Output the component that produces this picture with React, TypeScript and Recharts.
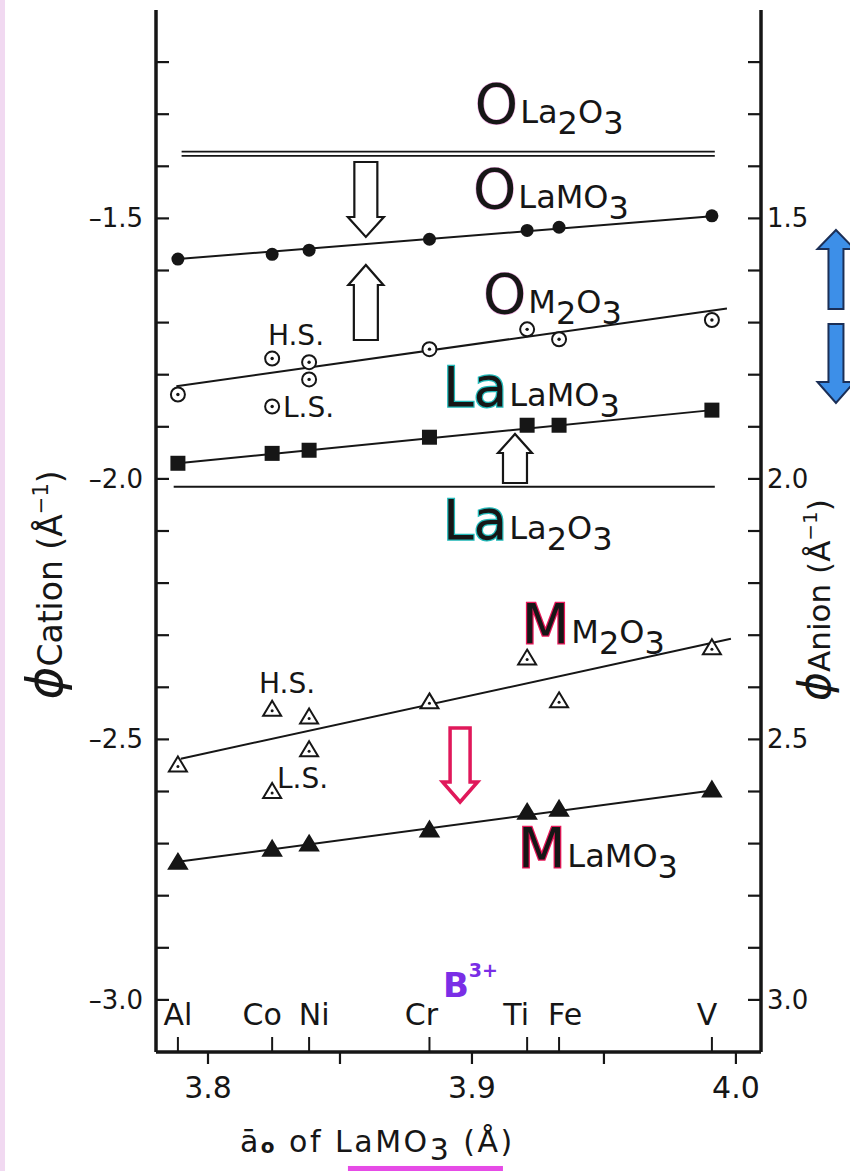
import React from 'react';
import { ComposedChart, XAxis, YAxis, Line, Scatter, ReferenceDot } from 'recharts';

// B-site cations of LaMO3 and the pseudo-cubic lattice constant a0 (Å)
const elements = ['Al', 'Co', 'Ni', 'Cr', 'Ti', 'Fe', 'V'];
const latticeA = [3.7886, 3.8243, 3.8383, 3.8839, 3.9209, 3.933, 3.9909];

// site potentials phi (Å^-1); null = no point
const oLaMO3 = [-1.578, -1.569, -1.561, -1.54, -1.523, -1.517, -1.495];
const oM2O3 = [-1.838, null, null, -1.751, -1.713, -1.732, -1.695];
const oM2O3HS = [null, -1.769, -1.776, null, null, null, null];
const oM2O3LS = [null, -1.861, -1.809, null, null, null, null];
const laLaMO3 = [-1.97, -1.951, -1.945, -1.92, -1.897, -1.897, -1.868];
const mM2O3 = [-2.548, null, null, -2.427, -2.343, -2.425, -2.323];
const mM2O3HS = [null, -2.441, -2.456, null, null, null, null];
const mM2O3LS = [null, -2.599, -2.519, null, null, null, null];
const mLaMO3 = [-2.735, -2.71, -2.7, -2.673, -2.639, -2.633, -2.596];

// straight guide lines (two ends each)
const fitA = [3.7886, 3.9909];
const oLaMO3Fit = [-1.578, -1.496];
const laLaMO3Fit = [-1.97, -1.868];
const mLaMO3Fit = [-2.735, -2.598];
const oM2O3FitA = [3.788, 3.9966];
const oM2O3Fit = [-1.822, -1.673];
const mM2O3FitA = [3.7897, 3.9981];
const mM2O3Fit = [-2.537, -2.307];
const oLa2O3A = [3.79, 3.992];
const oLa2O3Upper = [-1.372, -1.372];
const oLa2O3Lower = [-1.38, -1.38];
const laLa2O3A = [3.787, 3.992];
const laLa2O3 = [-2.015, -2.015];

// axes
const aTicks = [3.8, 3.85, 3.9, 3.95, 4.0];
const cationTicks = [-3.0, -2.9, -2.8, -2.7, -2.6, -2.5, -2.4, -2.3, -2.2, -2.1, -2.0, -1.9, -1.8, -1.7, -1.6, -1.5, -1.4, -1.3, -1.2];
const anionTicks = [1.2, 1.3, 1.4, 1.5, 1.6, 1.7, 1.8, 1.9, 2.0, 2.1, 2.2, 2.3, 2.4, 2.5, 2.6, 2.7, 2.8, 2.9, 3.0];

const INK = '#161616';
const FONT = '"DejaVu Sans", sans-serif';

const pts = (a: number[], phi: (number | null)[]) =>
  a.map((x, i) => ({ a: x, phi: phi[i] })).filter((p) => p.phi !== null);
const merge = (...sets: (number | null)[][]) =>
  latticeA.map((x, i) => sets.map((s) => ({ a: x, phi: s[i] }))).flat().filter((p) => p.phi !== null);

const elementMarks = elements.map((name, i) => ({ a: latticeA[i], phi: -3.1, name }));
const labelNudge: Record<string, number> = { Al: 0, Co: -10, Ni: 5, Cr: -8, Ti: -11, Fe: 6, V: -5 };

const onHalf = (v: number) => Math.abs(v * 2 - Math.round(v * 2)) < 1e-6;
const onTenth = (v: number) => Math.abs(v * 10 - Math.round(v * 10)) < 1e-6;

// marker shapes
const dotShape = (p: any) => <circle cx={p.cx} cy={p.cy} r={6.5} fill={INK} />;
const ringShape = (p: any) => (
  <g>
    <circle cx={p.cx} cy={p.cy} r={7} fill="#fff" stroke={INK} strokeWidth={2} />
    <circle cx={p.cx} cy={p.cy} r={1.7} fill={INK} />
  </g>
);
const squareShape = (p: any) => <rect x={p.cx - 7.5} y={p.cy - 7.5} width={15} height={15} fill={INK} />;
const triShape = (filled: boolean) => (p: any) => {
  const { cx, cy } = p;
  const poly = `${cx},${cy - 8} ${cx + 9},${cy + 7} ${cx - 9},${cy + 7}`;
  return (
    <g>
      <polygon points={poly} fill={filled ? INK : '#fff'} stroke={INK} strokeWidth={2} strokeLinejoin="miter" />
      {!filled && <circle cx={cx} cy={cy + 2} r={1.5} fill={INK} />}
    </g>
  );
};
const elementShape = (p: any) => {
  const { cx, cy, payload } = p;
  return (
    <g>
      <line x1={cx} x2={cx} y1={cy - 15} y2={cy} stroke={INK} strokeWidth={2} />
      <text x={cx + (labelNudge[payload.name] || 0)} y={cy - 27} textAnchor="middle" fontSize={30} fontFamily={FONT} fill={INK}>
        {payload.name}
      </text>
    </g>
  );
};

// tick renderers (ticks point inwards on the y axes, outwards on the x axis)
const CationTick = (props: any) => {
  const { x, y, payload } = props;
  const v = payload.value;
  return (
    <g>
      <line x1={x} x2={x + 13} y1={y} y2={y} stroke={INK} strokeWidth={2.2} />
      {onHalf(v) && (
        <text x={x - 13} y={y + 9} textAnchor="end" fontSize={26} fontFamily={FONT} fill={INK}>
          {'–' + Math.abs(v).toFixed(1)}
        </text>
      )}
    </g>
  );
};
const AnionTick = (props: any) => {
  const { x, y, payload } = props;
  const v = payload.value;
  return (
    <g>
      <line x1={x - 13} x2={x} y1={y} y2={y} stroke={INK} strokeWidth={2.2} />
      {onHalf(v) && (
        <text x={x + 6} y={y + 9} textAnchor="start" fontSize={26} fontFamily={FONT} fill={INK}>
          {v.toFixed(1)}
        </text>
      )}
    </g>
  );
};
const ATick = (props: any) => {
  const { x, y, payload } = props;
  const v = payload.value;
  return (
    <g>
      <line x1={x} x2={x} y1={y} y2={y + 12} stroke={INK} strokeWidth={2.2} />
      {onTenth(v) && (
        <text x={x} y={y + 46} textAnchor="middle" fontSize={30} fontFamily={FONT} fill={INK}>
          {v.toFixed(1)}
        </text>
      )}
    </g>
  );
};

// block arrow; (cx, cy) is the middle of the tail
const arrowShape = (up: boolean, len: number, shaftW: number, headW: number, headL: number, stroke: string, fill: string, sw: number) => (p: any) => {
  const { cx, cy } = p;
  const tip = up ? cy - len : cy + len;
  const base = up ? tip + headL : tip - headL;
  const poly = [
    [cx - shaftW / 2, cy], [cx - shaftW / 2, base], [cx - headW / 2, base], [cx, tip],
    [cx + headW / 2, base], [cx + shaftW / 2, base], [cx + shaftW / 2, cy],
  ].map((q) => q.join(',')).join(' ');
  return <polygon points={poly} fill={fill} stroke={stroke} strokeWidth={sw} strokeLinejoin="miter" />;
};

const note = (key: string, a: number, phi: number, draw: (p: any) => React.ReactElement) => (
  <ReferenceDot key={key} x={a} y={phi} yAxisId="cation" ifOverflow="visible" shape={draw} />
);

const compound = (big: string, fringe: string, fw: number, parts: [string, boolean][]) => (p: any) => (
  <text x={p.cx} y={p.cy} fontFamily={FONT} fill={INK}>
    <tspan fontSize={55} stroke={fringe} strokeWidth={fw} style={{ paintOrder: 'stroke' }}>{big}</tspan>
    {parts.map(([s, low], i) => (
      <tspan key={i} fontSize={32} dx={i === 0 ? 2 : 0} dy={low ? 11 : i > 0 && parts[i - 1][1] ? -11 : 0}>{s}</tspan>
    ))}
  </text>
);

const plain = (s: string, size: number) => (p: any) => (
  <text x={p.cx} y={p.cy} fontSize={size} fontFamily={FONT} fill={INK}>{s}</text>
);

const leftTitle = (p: any) => (
  <text x={p.cx} y={p.cy} transform={`rotate(-90 ${p.cx} ${p.cy})`} textAnchor="middle" fontFamily={FONT} fill={INK}>
    <tspan fontSize={50} fontStyle="italic">ϕ</tspan>
    <tspan fontSize={33}>Cation (Å</tspan>
    <tspan fontSize={21} dy={-14}>−1</tspan>
    <tspan fontSize={33} dy={14}>)</tspan>
  </text>
);
const rightTitle = (p: any) => (
  <text x={p.cx} y={p.cy} transform={`rotate(-90 ${p.cx} ${p.cy})`} textAnchor="middle" fontFamily={FONT} fill={INK}>
    <tspan fontSize={44} fontStyle="italic">ϕ</tspan>
    <tspan fontSize={31}>Anion (Å</tspan>
    <tspan fontSize={20} dy={-13}>−1</tspan>
    <tspan fontSize={31} dy={13}>)</tspan>
  </text>
);
const xTitle = (p: any) => (
  <g>
    <text x={p.cx} y={p.cy} fontFamily={FONT} fill={INK} fontSize={30} letterSpacing={2.5}>
      ā
      <tspan fontSize={20} fontWeight="bold" dy={1}>o</tspan>
      <tspan dy={-1}> of LaMO</tspan>
      <tspan dy={8}>3</tspan>
      <tspan dy={-8}> (Å)</tspan>
    </text>
    <rect x={p.cx + 108} y={p.cy + 14} width={155} height={6} fill="#e64be6" />
  </g>
);
const bCharge = (p: any) => (
  <text x={p.cx} y={p.cy} fontFamily={FONT} fill="#7a2ee6" fontWeight="bold">
    <tspan fontSize={34}>B</tspan>
    <tspan fontSize={19} dy={-20}>3+</tspan>
  </text>
);

export default function App() {
  return (
    <div style={{ position: 'absolute', left: 0, top: 0, width: 850, height: 1171, background: '#fff' }}>
      <div style={{ position: 'absolute', left: 0, top: 0, width: 5, height: 1171, background: '#f1d9f1' }} />
      <div style={{ position: 'absolute', left: 0, top: 0 }}>
        <ComposedChart width={850} height={1171} margin={{ top: 10, right: 0, bottom: 0, left: 0 }}>
          <XAxis
            dataKey="a"
            type="number"
            domain={[3.7803, 4.0095]}
            allowDataOverflow
            ticks={aTicks}
            interval={0}
            height={119}
            tickSize={0}
            tickMargin={0}
            tickLine={false}
            axisLine={{ stroke: INK, strokeWidth: 3.5 }}
            tick={<ATick />}
          />
          <YAxis
            yAxisId="cation"
            dataKey="phi"
            type="number"
            domain={[-3.1, -1.1]}
            allowDataOverflow
            ticks={cationTicks}
            interval={0}
            width={156}
            tickSize={0}
            tickMargin={0}
            tickLine={false}
            axisLine={{ stroke: INK, strokeWidth: 3.5 }}
            tick={<CationTick />}
          />
          <YAxis
            yAxisId="anion"
            orientation="right"
            type="number"
            domain={[1.1, 3.1]}
            reversed
            allowDataOverflow
            ticks={anionTicks}
            interval={0}
            width={89}
            tickSize={0}
            tickMargin={0}
            tickLine={false}
            axisLine={{ stroke: INK, strokeWidth: 3.5 }}
            tick={<AnionTick />}
          />

          <Line yAxisId="cation" data={pts(oLa2O3A, oLa2O3Upper)} dataKey="phi" stroke={INK} strokeWidth={1.8} dot={false} isAnimationActive={false} />
          <Line yAxisId="cation" data={pts(oLa2O3A, oLa2O3Lower)} dataKey="phi" stroke={INK} strokeWidth={1.8} dot={false} isAnimationActive={false} />
          <Line yAxisId="cation" data={pts(fitA, oLaMO3Fit)} dataKey="phi" stroke={INK} strokeWidth={2} dot={false} isAnimationActive={false} />
          <Line yAxisId="cation" data={pts(oM2O3FitA, oM2O3Fit)} dataKey="phi" stroke={INK} strokeWidth={2} dot={false} isAnimationActive={false} />
          <Line yAxisId="cation" data={pts(fitA, laLaMO3Fit)} dataKey="phi" stroke={INK} strokeWidth={2} dot={false} isAnimationActive={false} />
          <Line yAxisId="cation" data={pts(laLa2O3A, laLa2O3)} dataKey="phi" stroke={INK} strokeWidth={2} dot={false} isAnimationActive={false} />
          <Line yAxisId="cation" data={pts(mM2O3FitA, mM2O3Fit)} dataKey="phi" stroke={INK} strokeWidth={2} dot={false} isAnimationActive={false} />
          <Line yAxisId="cation" data={pts(fitA, mLaMO3Fit)} dataKey="phi" stroke={INK} strokeWidth={2} dot={false} isAnimationActive={false} />

          <Scatter yAxisId="cation" data={pts(latticeA, oLaMO3)} dataKey="phi" shape={dotShape} isAnimationActive={false} />
          <Scatter yAxisId="cation" data={merge(oM2O3, oM2O3HS, oM2O3LS)} dataKey="phi" shape={ringShape} isAnimationActive={false} />
          <Scatter yAxisId="cation" data={pts(latticeA, laLaMO3)} dataKey="phi" shape={squareShape} isAnimationActive={false} />
          <Scatter yAxisId="cation" data={merge(mM2O3, mM2O3HS, mM2O3LS)} dataKey="phi" shape={triShape(false)} isAnimationActive={false} />
          <Scatter yAxisId="cation" data={pts(latticeA, mLaMO3)} dataKey="phi" shape={triShape(true)} isAnimationActive={false} />
          <Scatter yAxisId="cation" data={elementMarks} dataKey="phi" shape={elementShape} isAnimationActive={false} />

          {note('oLa2O3', 3.9011, -1.3169, compound('O', '#f3b3e6', 1.2, [['La', false], ['2', true], ['O', false], ['3', true]]))}
          {note('oLaMO3', 3.9004, -1.48, compound('O', '#f3b3e6', 1.2, [['LaMO', false], ['3', true]]))}
          {note('oM2O3', 3.9042, -1.6816, compound('O', '#f3b3e6', 1.2, [['M', false], ['2', true], ['O', false], ['3', true]]))}
          {note('laLaMO3', 3.889, -1.8601, compound('La', '#22b8b8', 2.5, [['LaMO', false], ['3', true]]))}
          {note('laLa2O3', 3.889, -2.1154, compound('La', '#22b8b8', 2.5, [['La', false], ['2', true], ['O', false], ['3', true]]))}
          {note('mM2O3', 3.9189, -2.315, compound('M', '#e8185a', 2.5, [['M', false], ['2', true], ['O', false], ['3', true]]))}
          {note('mLaMO3', 3.9174, -2.7449, compound('M', '#e8185a', 2.5, [['LaMO', false], ['3', true]]))}

          {note('oHS', 3.8227, -1.743, plain('H.S.', 28))}
          {note('oLS', 3.8284, -1.8812, plain('L.S.', 28))}
          {note('mHS', 3.8193, -2.4109, plain('H.S.', 28))}
          {note('mLS', 3.8261, -2.5933, plain('L.S.', 28))}
          {note('bCharge', 3.889, -2.9944, bCharge)}

          {note('arrowDownO', 3.8598, -1.3917, arrowShape(false, 75, 23, 36, 20, INK, '#fff', 2.2))}
          {note('arrowUpO', 3.8598, -1.7334, arrowShape(true, 75, 24, 35, 20, INK, '#fff', 2.2))}
          {note('arrowUpLa', 3.9163, -2.0079, arrowShape(true, 49, 24, 34, 19, INK, '#fff', 2.2))}
          {note('arrowDownM', 3.8955, -2.4781, arrowShape(false, 74, 20, 35, 20, '#e0185a', '#fff', 3.5))}
          {note('arrowUpBlue', 4.0379, -1.6739, arrowShape(true, 79, 15, 37, 19, '#1b2f57', '#3d8fe8', 2))}
          {note('arrowDownBlue', 4.0379, -1.7027, arrowShape(false, 79, 15, 37, 21, '#1b2f57', '#3d8fe8', 2))}

          {note('titleLeft', 3.7447, -2.2036, leftTitle)}
          {note('titleRight', 4.0356, -2.2324, rightTitle)}
          {note('titleX', 3.8121, -3.2919, xTitle)}
        </ComposedChart>
      </div>
    </div>
  );
}
